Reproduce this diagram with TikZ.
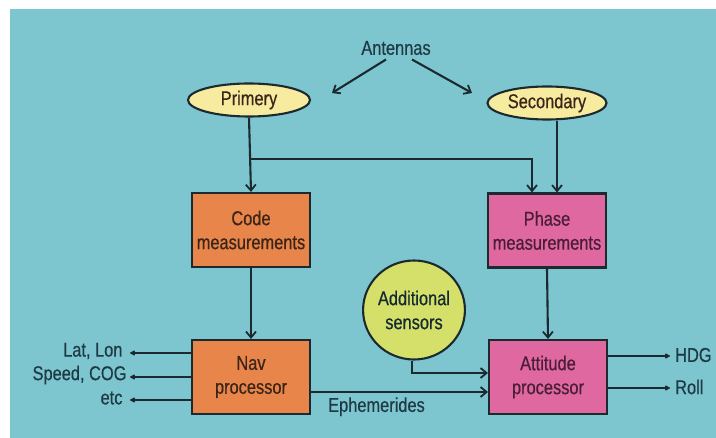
\documentclass[tikz,border=0pt]{standalone}
\usepackage{fontspec}
\setmainfont[FakeStretch=0.82,FakeBold=0.5]{Liberation Sans}
\usetikzlibrary{shapes.geometric,arrows.meta}
\definecolor{bgteal}{HTML}{7DC6CF}
\definecolor{orangebox}{HTML}{E8854A}
\definecolor{pinkbox}{HTML}{E068A0}
\definecolor{paleyellow}{HTML}{F7EBA0}
\definecolor{limegreen}{HTML}{D4E06A}
\definecolor{linecol}{HTML}{1C2A30}
\definecolor{labelcol}{HTML}{1E3A45}
\definecolor{orangetext}{HTML}{3B2418}
\definecolor{pinktext}{HTML}{4A1E38}
\tikzset{
  every node/.style={font=\fontsize{20}{24}\selectfont, text=labelcol},
  boxbase/.style={draw=linecol, line width=2.1pt, minimum width=118pt, minimum height=74pt, align=center, inner sep=2pt},
  orangenode/.style={boxbase, fill=orangebox, text=orangetext},
  pinknode/.style={boxbase, fill=pinkbox, text=pinktext},
  antnode/.style={ellipse, draw=linecol, line width=2.1pt, fill=paleyellow, minimum height=33pt, inner sep=0pt, text=orangetext},
  sensnode/.style={ellipse, draw=linecol, line width=2.1pt, fill=limegreen, minimum width=95pt, minimum height=99pt, inner sep=0pt, align=center, text=labelcol!70!black},
  conn/.style={draw=linecol, line width=2.1pt},
  arr/.style={conn, -{Straight Barb[length=6pt,width=10pt,line width=1.8pt]}},
  outarr/.style={conn, -{Latex[round,length=6pt,width=6.5pt]}},
}
\begin{document}
\begin{tikzpicture}[x=1pt,y=-1pt]
\useasboundingbox (0,0) rectangle (716,438);
\fill[white] (0,0) rectangle (716,438);
\fill[bgteal] (10,9) rectangle (716,438);

\node (ant) at (396,48) {Antennas};
\node[antnode, minimum width=122pt] (pri) at (249,100) {Primery};
\node[antnode, minimum width=119pt] (sec) at (547,103) {Secondary};
\node[orangenode] (code) at (251,230) {Code\\measurements};
\node[pinknode] (phase) at (547,230.5) {Phase\\measurements};
\node[orangenode] (nav) at (251,377) {Nav\\processor};
\node[pinknode] (att) at (548,377) {Attitude\\processor};
\node[sensnode] (sens) at (414,310) {Additional\\sensors};

\coordinate (al) at (332,93);
\coordinate (ar) at (472,93);
\draw[arr] ([xshift=-10pt,yshift=-1pt]ant.south) -- (al);
\draw[arr] ([xshift=16pt,yshift=-1pt]ant.south) -- (ar);

\draw[arr] (pri.south) -- (code.north);
\coordinate (j) at (249,159);
\draw[arr] (j) -| ([xshift=-15pt]phase.north);
\draw[arr] ([xshift=10pt]sec.south) -- ([xshift=10pt]sec.south |- phase.north);
\draw[arr] (code.south) -- (nav.north);
\draw[arr] (phase.south) -- (att.north);

\draw[arr] ([xshift=-2pt]sens.south) |- ([yshift=4pt]att.west);
\draw[arr] ([yshift=-15pt]nav.east) -- node[below=1pt, pos=0.37] (eph) {Ephemerides} ([yshift=-15pt]att.west);

\coordinate (o1) at (130,353);
\coordinate (o2) at (130,377);
\coordinate (o3) at (130,400);
\draw[outarr] (nav.west |- o1) -- (o1);
\draw[outarr] (nav.west |- o2) -- (o2);
\draw[outarr] (nav.west |- o3) -- (o3);
\node[anchor=east] (l1) at (126,351) {Lat, Lon};
\node[anchor=east] (l2) at (130,375) {Speed, COG};
\node[anchor=east] (l3) at (126,398) {etc};

\coordinate (r1) at (670,356);
\coordinate (r2) at (670,388);
\draw[outarr] (att.east |- r1) -- (r1);
\draw[outarr] (att.east |- r2) -- (r2);
\node[anchor=west, inner xsep=1pt] (hdg) at (674,355) {HDG};
\node[anchor=west, inner xsep=1pt] (roll) at (674,387) {Roll};
\end{tikzpicture}
\end{document}
